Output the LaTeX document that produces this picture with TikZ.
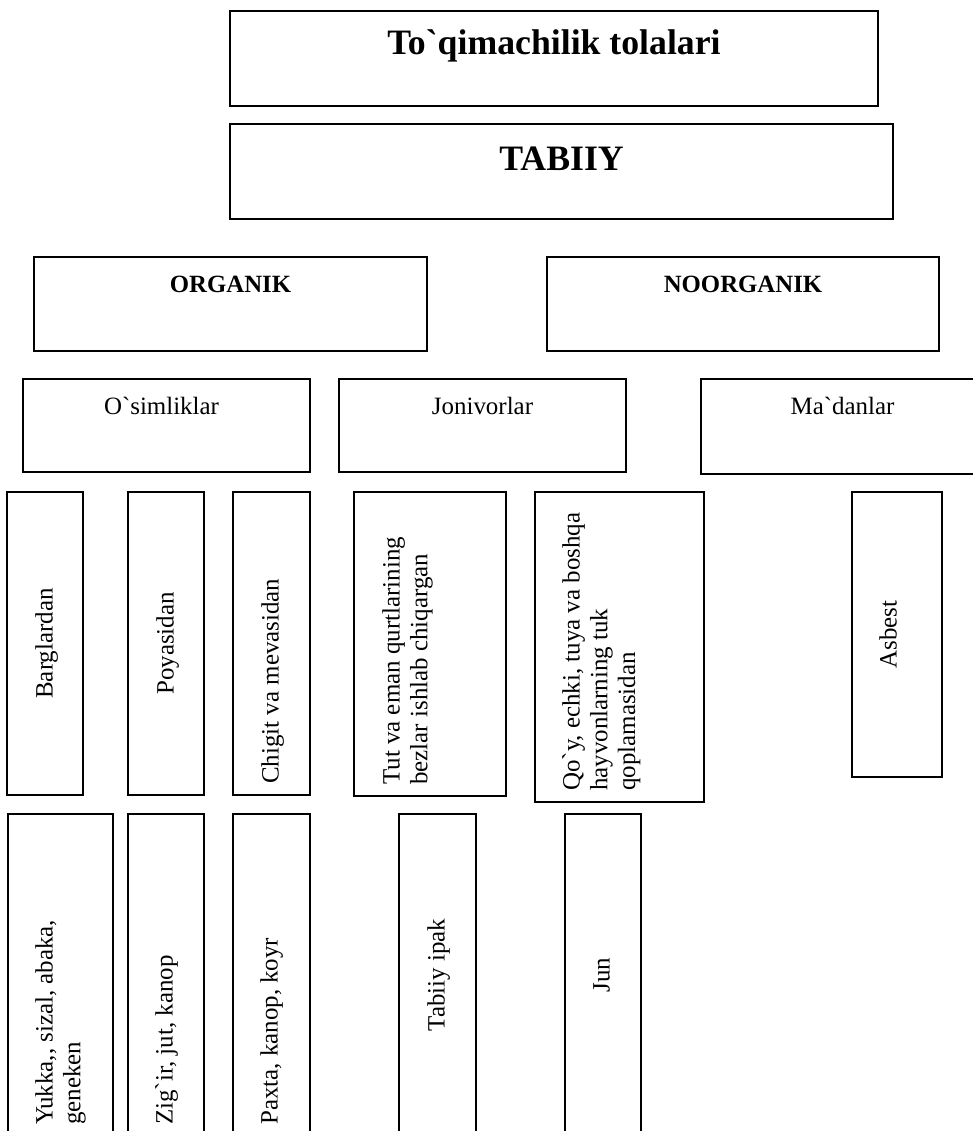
\documentclass[tikz,border=0pt]{standalone}
\usepackage{fontspec}
\setmainfont{Liberation Serif}[Ligatures=TeXOff]

\tikzset{
  box/.style={draw, line width=1.3pt, inner sep=0pt, outer sep=0pt, anchor=north west},
  htxt/.style={inner sep=0pt, anchor=base, font=\fontsize{18.7}{21}\selectfont},
  hbold/.style={htxt, font=\fontsize{18.6}{21}\selectfont\bfseries},
  hbig/.style={htxt, font=\fontsize{26.8}{30}\selectfont\bfseries},
  vtxt/.style={inner sep=0pt, rotate=90, align=left, font=\fontsize{18.7}{20.8}\selectfont},
}

\begin{document}
\begin{tikzpicture}[x=0.75pt, y=0.75pt]
        \def\bx(#1)(#2,#3)(#4,#5){\node[box, minimum width={(#4-#2)*0.75pt},
          minimum height={(#5-#3)*0.75pt}](#1) at (#2,-#3){};}

        \useasboundingbox (0,0) rectangle (973,-1131);
        \clip (0,0) rectangle (973,-1131);

        % top levels
        \bx(title)(230,11)(878,106)
        \bx(tabiiy)(230,124)(893,219)
        \bx(org)(34,257)(427,351)
        \bx(noorg)(547,257)(939,351)
        \bx(osim)(23,379)(310,472)
        \bx(joniv)(339,379)(626,472)
        \bx(madan)(701,379)(984,474)

        \node[hbig, yshift=-33pt] (titlet) at (title.north) {To`qimachilik tolalari};
        \node[hbig, yshift=-34.9pt] (tabiiyt) at (tabiiy.north) {TABIIY};
        \node[hbold, yshift=-26.25pt] (orgt) at (org.north) {ORGANIK};
        \node[hbold, yshift=-26.25pt] (noorgt) at (noorg.north) {NOORGANIK};
        \node[htxt, xshift=-3.75pt, yshift=-26.25pt] (osimt) at (osim.north) {O`simliklar};
        \node[htxt, yshift=-26.25pt] (jonivt) at (joniv.north) {Jonivorlar};
        \node[htxt, yshift=-26.25pt] (madant) at (madan.north) {Ma`danlar};

        % sources
        \bx(barg)(7,492)(83,795)
        \bx(poya)(128,492)(204,795)
        \bx(chigit)(233,492)(310,795)
        \bx(tut)(354,492)(506,796)
        \bx(qoy)(535,492)(704,802)
        \bx(asbest)(852,492)(942,777)

        \node[vtxt, anchor=north] (bargt) at ([xshift=21pt]barg.west) {Barglardan};
        \node[vtxt, anchor=north] (poyat) at ([xshift=21pt]poya.west) {Poyasidan};
        \node[vtxt, anchor=north west] (chigitt) at ([xshift=21pt, yshift=8.25pt]chigit.south west)
          {Chigit va mevasidan};
        \node[vtxt, anchor=north west] (tutt) at ([xshift=21pt, yshift=8.25pt]tut.south west)
          {Tut va eman qurtlarining\\bezlar ishlab chiqargan};
        \node[vtxt, anchor=north west] (qoyt) at ([xshift=20.25pt, yshift=8.25pt]qoy.south west)
          {Qo`y, echki, tuya va boshqa\\hayvonlarning tuk\\qoplamasidan};
        \node[vtxt, anchor=north] (asbestt) at ([xshift=20.25pt]asbest.west) {Asbest};

        % fibres
        \bx(yukka)(8,814)(113,1136)
        \bx(zigir)(128,814)(204,1136)
        \bx(paxta)(233,814)(310,1136)
        \bx(ipak)(399,814)(476,1136)
        \bx(jun)(565,814)(641,1136)

        \node[vtxt, anchor=north west] (yukkat) at ([xshift=20.25pt, yshift=8.25pt]yukka.south west)
          {Yukka,, sizal, abaka,\\geneken};
        \node[vtxt, anchor=north west] (zigirt) at ([xshift=20.25pt, yshift=8.25pt]zigir.south west)
          {Zig`ir, jut, kanop};
        \node[vtxt, anchor=north west] (paxtat) at ([xshift=20.25pt, yshift=8.25pt]paxta.south west)
          {Paxta, kanop, koyr};
        \node[vtxt, anchor=north] (ipakt) at ([xshift=21pt]ipak.west) {Tabiiy ipak};
        \node[vtxt, anchor=north] (junt) at ([xshift=21pt]jun.west) {Jun};
\end{tikzpicture}
\end{document}
